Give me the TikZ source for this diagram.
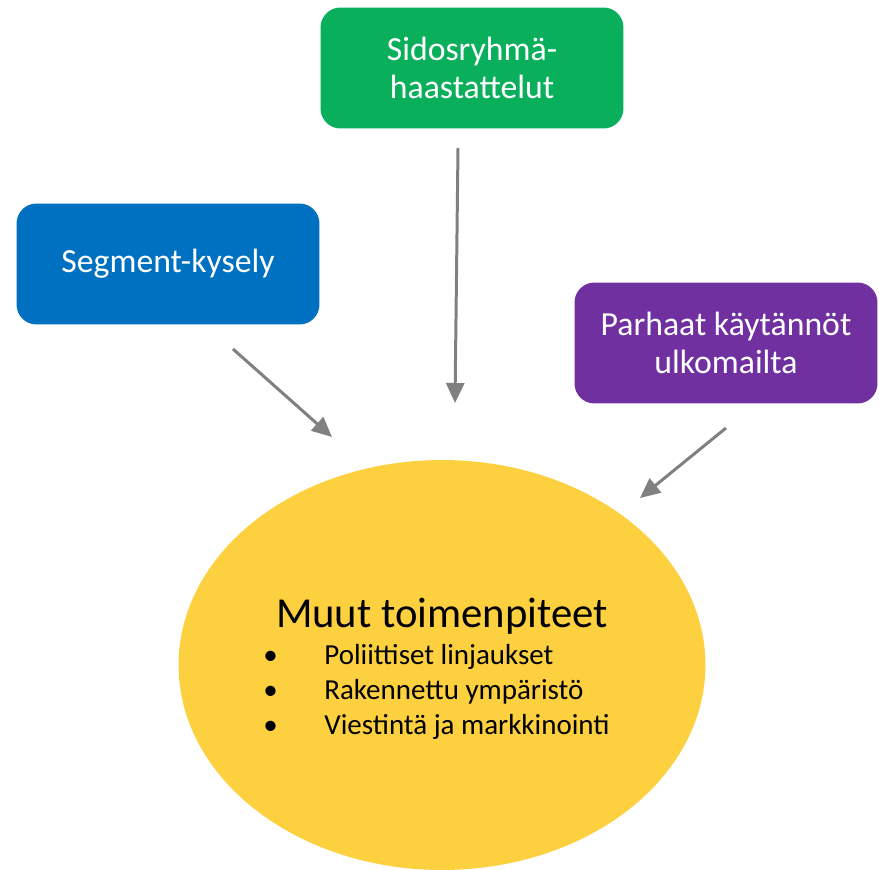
\documentclass[tikz,border=0pt]{standalone}
\usepackage{fontspec}
\setmainfont{Carlito}
\usetikzlibrary{shapes.geometric,arrows.meta}
\definecolor{vihrea}{HTML}{0AAF5C}
\definecolor{sininen}{HTML}{0070C0}
\definecolor{violetti}{HTML}{7030A0}
\definecolor{keltainen}{HTML}{FDD03F}
\definecolor{harmaa}{HTML}{808080}

\begin{document}
\begin{tikzpicture}[x=0.02cm, y=-0.02cm,
    laatikko/.style={rectangle, rounded corners=0.4cm, minimum width=6.06cm, minimum height=2.42cm,
        text=white, align=center, font=\fontsize{19.2}{22}\selectfont},
    nuoli/.style={draw=harmaa, line width=1.7pt, -{Triangle[length=0.4cm, width=0.36cm]}},
    kohta/.style={anchor=base west, inner sep=0pt, font=\fontsize{16.5}{19}\selectfont}]
    \useasboundingbox (0, 0) rectangle (879, 869);

    % boxes
    \node[laatikko, fill=vihrea] (haastattelut) at (472, 68) {Sidosryhmä-\\haastattelut};
    \node[laatikko, fill=sininen] (kysely) at (168, 264) {Segment-kysely};
    \node[laatikko, fill=violetti] (parhaat) at (726, 343) {Parhaat käytännöt\\ulkomailta};

    % ellipse
    \node[ellipse, fill=keltainen, minimum width=10.54cm, minimum height=8.2cm] (muut) at (442, 665) {};
    \node[font=\fontsize{24.3}{28}\selectfont, anchor=base, inner sep=0pt] (otsikko) at (442, 627) {Muut toimenpiteet};
    \foreach \y / \teksti [count=\i] in {664/Poliittiset linjaukset, 699/Rakennettu ympäristö, 734/Viestintä ja markkinointi} {
        \node[kohta] (luettelo\i) at (324, \y) {\teksti};
        \node[kohta] (pallo\i) at (263, \y) {•};
    }

    % arrows
    \coordinate (a1) at (233, 349); \coordinate (b1) at (332, 437);
    \coordinate (a2) at (458, 148); \coordinate (b2) at (455, 403);
    \coordinate (a3) at (726, 428); \coordinate (b3) at (640, 498);
    \foreach \i in {1, 2, 3}
        \draw[nuoli] (a\i) -- (b\i);

\end{tikzpicture}
\end{document}
